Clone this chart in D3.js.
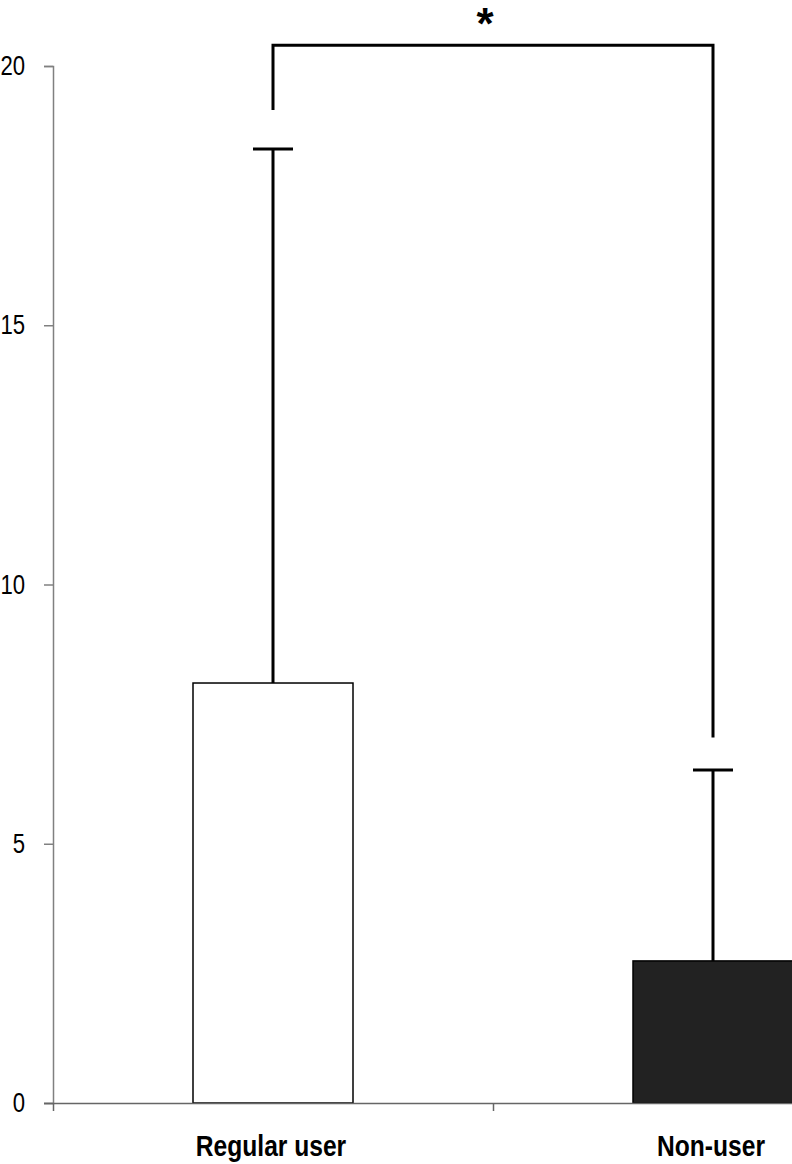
<!DOCTYPE html>
<html>
<head>
<meta charset="utf-8">
<script src="https://cdn.jsdelivr.net/npm/d3@7"></script>
<style>
  body { margin: 0; background: #fff; }
  svg { display: block; font-family: "Liberation Sans", Arial, sans-serif; }
</style>
</head>
<body>
<svg id="chart"></svg>
<script>
// data
const categories = ['Regular user', 'Non-user'];
const means = [8.1, 2.74];
const errTops = [18.4, 6.42];
const barFills = ['#ffffff', '#222222'];
const yTicks = [0, 5, 10, 15, 20];
// significance bracket: top level and where each leg stops
const bracketTop = 20.4;
const bracketLegEnds = [19.15, 7.05];
const sigLabel = '*';

const W = 792, H = 1164;
const margin = { top: 66, left: 53, bottom: 61 };
const narrow = 0.82;   // Arial Narrow look from Liberation Sans

const svg = d3.select('#chart').attr('width', W).attr('height', H);

const y = d3.scaleLinear().domain([0, 20]).range([H - margin.bottom, margin.top]);
const x = d3.scaleBand().domain(categories).range([margin.left, margin.left + 880]).paddingInner(0);
const barW = 160;
const center = d => x(d) + 140 + barW / 2;

// y axis
const yAxis = svg.append('g').attr('class', 'y-axis')
  .attr('transform', `translate(${margin.left},0)`)
  .call(d3.axisLeft(y).tickValues(yTicks).tickSize(9).tickPadding(19).tickFormat(d3.format('d')));
yAxis.select('.domain').attr('stroke', '#808080').attr('stroke-width', 1.5);
yAxis.selectAll('.tick line').attr('stroke', '#808080').attr('stroke-width', 1.5);
yAxis.selectAll('.tick text')
  .attr('x', 0)
  .attr('transform', `translate(-28,0) scale(${narrow},1)`)
  .style('font-size', '27px').attr('fill', '#000')
  .style('font-family', 'inherit');

// bars
svg.selectAll('rect.bar').data(categories).join('rect')
  .attr('class', 'bar')
  .attr('x', d => x(d) + 140)
  .attr('width', barW)
  .attr('y', (d, i) => y(means[i]))
  .attr('height', (d, i) => y(0) - y(means[i]))
  .attr('fill', (d, i) => barFills[i])
  .attr('stroke', '#000')
  .attr('stroke-width', 1.5);

// x axis (ticks at category boundaries)
const xb = d3.scaleLinear().domain([0, categories.length]).range(x.range());
const xAxis = svg.append('g').attr('class', 'x-axis')
  .attr('transform', `translate(0,${y(0)})`)
  .call(d3.axisBottom(xb).tickValues(d3.range(categories.length + 1)).tickSizeInner(8).tickSizeOuter(0).tickFormat(''));
xAxis.select('.domain').attr('stroke', '#666').attr('stroke-width', 1.5)
  .attr('d', `M${margin.left - 9},0.5H${W}`);
xAxis.selectAll('.tick line').attr('stroke', '#666').attr('stroke-width', 1.5);

// category labels
svg.selectAll('text.cat').data(categories).join('text')
  .attr('class', 'cat')
  .attr('transform', d => `translate(${center(d) - 2},${y(0) + 53}) scale(${narrow},1)`)
  .attr('text-anchor', 'middle')
  .style('font-size', '30px')
  .style('font-weight', 'bold')
  .text(d => d);

// error bars
const err = svg.append('g').attr('class', 'errors');
err.selectAll('line.stem').data(categories).join('line')
  .attr('class', 'stem')
  .attr('x1', d => center(d)).attr('x2', d => center(d))
  .attr('y1', (d, i) => y(means[i])).attr('y2', (d, i) => y(errTops[i]))
  .attr('stroke', '#000').attr('stroke-width', 3);
err.selectAll('line.cap').data(categories).join('line')
  .attr('class', 'cap')
  .attr('x1', d => center(d) - 20).attr('x2', d => center(d) + 20)
  .attr('y1', (d, i) => y(errTops[i])).attr('y2', (d, i) => y(errTops[i]))
  .attr('stroke', '#000').attr('stroke-width', 3);

// significance bracket
const legX = categories.map(center);
const bracket = d3.path();
bracket.moveTo(legX[0], y(bracketLegEnds[0]));
bracket.lineTo(legX[0], y(bracketTop));
bracket.lineTo(legX[1], y(bracketTop));
bracket.lineTo(legX[1], y(bracketLegEnds[1]));
svg.append('path').attr('d', bracket.toString())
  .attr('fill', 'none').attr('stroke', '#000').attr('stroke-width', 3);

svg.append('text')
  .attr('x', d3.mean(legX) - 8)
  .attr('y', y(bracketTop) - 6)
  .attr('text-anchor', 'middle')
  .style('font-size', '44px')
  .style('font-weight', 'bold')
  .text(sigLabel);
</script>
</body>
</html>
